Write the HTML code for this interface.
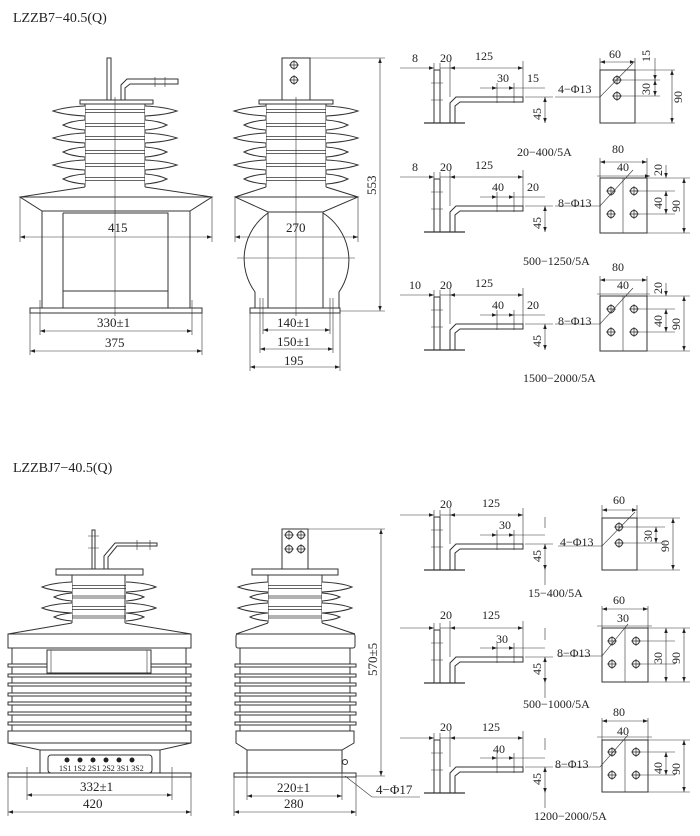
<!DOCTYPE html>
<html><head><meta charset="utf-8"><style>
html,body{margin:0;padding:0;background:#fff;}
svg{display:block;}
text{font-family:"Liberation Serif",serif;fill:#222;}
</style></head><body>
<svg width="700" height="836" viewBox="0 0 700 836" xmlns="http://www.w3.org/2000/svg" stroke="#333" stroke-width="1" fill="none">
<defs>
<marker id="a" viewBox="0 0 10 10" refX="10" refY="5" markerUnits="userSpaceOnUse" markerWidth="8" markerHeight="5" orient="auto-start-reverse"><path d="M0,1.5 L10,5 L0,8.5 z" fill="#222" stroke="none"/></marker>
<g id="shB"><path d="M-30,-5 Q-50,-4 -62,0 Q-50,4 -30,5 M30,-5 Q50,-4 62,0 Q50,4 30,5" fill="#fff"/><path d="M-30,-1.5 H30 M-30,1.5 H30" stroke-width="0.7"/></g>
<g id="shS"><path d="M-30,-5 Q-44,-4 -52,0 Q-44,4 -30,5 M30,-5 Q44,-4 52,0 Q44,4 30,5" fill="#fff"/><path d="M-30,-1.5 H30 M-30,1.5 H30" stroke-width="0.7"/></g>
<g id="shB2"><path d="M-27,-5 Q-47,-4 -57,0 Q-47,4 -27,5 M27,-5 Q47,-4 57,0 Q47,4 27,5" fill="#fff"/><path d="M-27,-1.5 H27 M-27,1.5 H27" stroke-width="0.7"/></g>
<g id="shS2"><path d="M-27,-4 Q-39,-3 -45,0 Q-39,3 -27,4 M27,-4 Q39,-3 45,0 Q39,3 27,4" fill="#fff"/><path d="M-27,-1 H27 M-27,1 H27" stroke-width="0.7"/></g>
<g id="hole"><circle r="3.5"/><path d="M-5,0 H5 M0,-5 V5" stroke-width="0.7"/></g>
<g id="br">
<rect x="434" y="-53" width="6" height="53"/>
<path d="M431,-40 H443 M431,-23 H443" stroke-width="0.6"/>
<path d="M450,0 V-20 L456,-26 H523 V-21 H460 L455,-17 V0"/>
<path d="M424,0 H465" stroke-width="1.2"/>
<path d="M434,-60 V-53 M440,-60 V-53 M450,-62 V-26 M523,-62 V-26 M497,-40 V-20 M514,-40 V-20 M525,-26 H553" stroke-width="0.6"/>
<path d="M400,-55 H434" stroke-width="0.6" marker-end="url(#a)"/>
<path d="M440,-55 H450" stroke-width="0.6"/>
<path d="M450,-55 H523" stroke-width="0.6" marker-start="url(#a)" marker-end="url(#a)"/>
<path d="M480,-35 H497" stroke-width="0.6" marker-end="url(#a)"/>
<path d="M497,-35 H514" stroke-width="0.6" marker-end="url(#a)"/>
<path d="M514,-35 H545" stroke-width="0.6"/>
<path d="M545,-26 V0" stroke-width="0.6" marker-start="url(#a)" marker-end="url(#a)"/>
</g>
</defs>

<text x="13" y="22" font-size="14" stroke="none">LZZB7−40.5(Q)</text>
<text x="13" y="472" font-size="14" stroke="none">LZZBJ7−40.5(Q)</text>

<!-- ===== Top left view ===== -->
<g>
<rect x="107" y="58" width="4" height="42"/>
<path d="M121,100 V85 L127,79 H178 V84 H130 L125,88 V100"/>
<path d="M155,77 V87 M165,77 V87" stroke-width="0.6"/>
<rect x="80" y="100" width="73" height="4"/>
<path d="M85,104 V187 M145,104 V187"/>
<use href="#shB" x="115" y="111"/><use href="#shS" x="115" y="125"/>
<use href="#shB" x="115" y="138"/><use href="#shS" x="115" y="152"/>
<use href="#shB" x="115" y="165"/><use href="#shS" x="115" y="179"/>
<path d="M85,187 L20,197 L42,211 H190 L212,197 L145,187 M20,197 H212"/>
<path d="M42,211 V308 M190,211 V308"/>
<path d="M63,213 H168 V308 M63,213 V308 M63,291 H168"/>
<rect x="30" y="308" width="172" height="5"/>
<path d="M115,97 V316" stroke-width="0.6"/>
<path d="M20,197 V242 M212,197 V242 M40,300 V335 M192,300 V335 M30,313 V355 M202,313 V355" stroke-width="0.6"/>
<path d="M20,237 H212" stroke-width="0.6" marker-start="url(#a)" marker-end="url(#a)"/>
<path d="M40,331 H192" stroke-width="0.6" marker-start="url(#a)" marker-end="url(#a)"/>
<path d="M30,351 H202" stroke-width="0.6" marker-start="url(#a)" marker-end="url(#a)"/>
<text x="108" y="232" font-size="13" stroke="none">415</text>
<text x="97" y="327" font-size="13" stroke="none">330±1</text>
<text x="105" y="347" font-size="13" stroke="none">375</text>
</g>

<!-- ===== Top middle view ===== -->
<g>
<rect x="282" y="58" width="28" height="42"/>
<use href="#hole" x="294" y="65"/><use href="#hole" x="294" y="80"/>
<rect x="259" y="100" width="74" height="4"/>
<path d="M266,104 V187 M326,104 V187"/>
<use href="#shB" x="296" y="111"/><use href="#shS" x="296" y="125"/>
<use href="#shB" x="296" y="138"/><use href="#shS" x="296" y="152"/>
<use href="#shB" x="296" y="165"/><use href="#shS" x="296" y="179"/>
<path d="M266,187 L235,197 L268,212 H323 L358,197 L326,187 M235,197 H358"/>
<path d="M268,212 V308 M323,212 V308"/>
<path d="M268,213 A56,56 0 0 0 255,292 V308 M323,213 A56,56 0 0 1 339,292 V308"/>
<rect x="250" y="308" width="90" height="5"/>
<path d="M296,97 V316 M237,258 H355" stroke-width="0.6"/>
<path d="M310,58 H385 M340,311 H385" stroke-width="0.6"/>
<path d="M380,58 V311" stroke-width="0.6" marker-start="url(#a)" marker-end="url(#a)"/>
<text transform="translate(376,195) rotate(-90)" font-size="13" stroke="none">553</text>
<path d="M235,197 V242 M358,197 V242 M263,298 V334 M330,298 V334 M260,298 V353 M333,298 V353 M250,313 V371 M340,313 V371" stroke-width="0.6"/>
<path d="M235,237 H358" stroke-width="0.6" marker-start="url(#a)" marker-end="url(#a)"/>
<path d="M263,330 H330" stroke-width="0.6" marker-start="url(#a)" marker-end="url(#a)"/>
<path d="M260,349 H333" stroke-width="0.6" marker-start="url(#a)" marker-end="url(#a)"/>
<path d="M250,367 H340" stroke-width="0.6" marker-start="url(#a)" marker-end="url(#a)"/>
<text x="286" y="232" font-size="13" stroke="none">270</text>
<text x="277" y="327" font-size="13" stroke="none">140±1</text>
<text x="277" y="346" font-size="13" stroke="none">150±1</text>
<text x="284" y="365" font-size="13" stroke="none">195</text>
</g>

<!-- ===== Bottom left view ===== -->
<g>
<rect x="92" y="530" width="3" height="39"/>
<path d="M88,536 H99 M88,548 H99" stroke-width="0.6"/>
<path d="M104,569 V556 L115,543 H157 V546 H117 L108,557 V569"/>
<path d="M137,540 V550 M150,540 V550" stroke-width="0.6"/>
<rect x="56" y="569" width="87" height="6"/>
<path d="M72,575 V623 M125,575 V623"/>
<use href="#shB2" x="99" y="587"/><use href="#shS2" x="99" y="597"/>
<use href="#shB2" x="99" y="608"/><use href="#shS2" x="99" y="617"/>
<path d="M72,623 L8,634 M125,623 L191,634"/>
<rect x="8" y="634" width="183" height="14"/>
<rect x="12" y="648" width="174" height="83"/>
<g fill="#fff">
<rect x="8" y="664" width="183" height="3"/><rect x="8" y="674" width="183" height="3"/>
<rect x="8" y="683" width="183" height="3"/><rect x="8" y="693" width="183" height="3"/>
<rect x="8" y="702" width="183" height="3"/><rect x="8" y="712" width="183" height="3"/>
<rect x="8" y="722" width="183" height="3"/>
<rect x="47" y="650" width="104" height="23"/>
</g>
<path d="M51,650 V673 M147,650 V673" stroke-width="0.6"/>
<rect x="8" y="731" width="183" height="12"/>
<path d="M8,743 L40,750 V773 M191,743 L160,750 V773 M40,750 H160"/>
<rect x="48" y="755" width="104" height="18" rx="3"/>
<g fill="#222" stroke="none">
<circle cx="67" cy="760" r="2.5"/><circle cx="80" cy="760" r="2.5"/><circle cx="93" cy="760" r="2.5"/>
<circle cx="106" cy="760" r="2.5"/><circle cx="119" cy="760" r="2.5"/><circle cx="132" cy="760" r="2.5"/>
</g>
<text x="59" y="771" font-size="8" stroke="none">1S1 1S2 2S1 2S2 3S1 3S2</text>
<rect x="8" y="773" width="183" height="4"/>
<path d="M27,767 V800 M172,767 V800 M8,777 V816 M191,777 V816" stroke-width="0.6"/>
<path d="M27,795 H172" stroke-width="0.6" marker-start="url(#a)" marker-end="url(#a)"/>
<path d="M8,812 H191" stroke-width="0.6" marker-start="url(#a)" marker-end="url(#a)"/>
<text x="80" y="791" font-size="13" stroke="none">332±1</text>
<text x="83" y="808" font-size="13" stroke="none">420</text>
</g>

<!-- ===== Bottom middle view ===== -->
<g>
<rect x="282" y="529" width="26" height="40"/>
<use href="#hole" x="289" y="535"/><use href="#hole" x="301" y="535"/>
<use href="#hole" x="289" y="549"/><use href="#hole" x="301" y="549"/>
<rect x="252" y="569" width="86" height="6"/>
<path d="M268,575 V623 M322,575 V623"/>
<use href="#shB2" x="295" y="587"/><use href="#shS2" x="295" y="597"/>
<use href="#shB2" x="295" y="608"/><use href="#shS2" x="295" y="617"/>
<path d="M268,623 L236,634 M322,623 L355,634"/>
<rect x="236" y="634" width="119" height="14" rx="2"/>
<rect x="240" y="648" width="110" height="83"/>
<g fill="#fff">
<rect x="235" y="664" width="121" height="3"/><rect x="235" y="674" width="121" height="3"/>
<rect x="235" y="683" width="121" height="3"/><rect x="235" y="693" width="121" height="3"/>
<rect x="235" y="702" width="121" height="3"/><rect x="235" y="712" width="121" height="3"/>
<rect x="235" y="722" width="121" height="3"/>
</g>
<path d="M236,731 H354 V743 L342,750 H247 L236,743 Z"/>
<path d="M247,750 V773 M342,750 V773"/>
<circle cx="345" cy="762" r="2.5"/>
<rect x="234" y="773" width="122" height="4"/>
<path d="M308,529 H385 M356,776 H385" stroke-width="0.6"/>
<path d="M381,529 V776" stroke-width="0.6" marker-start="url(#a)" marker-end="url(#a)"/>
<text transform="translate(377,676) rotate(-90)" font-size="13" stroke="none">570±5</text>
<path d="M247,773 V800 M342,773 V800 M234,777 V816 M356,777 V816" stroke-width="0.6"/>
<path d="M247,796 H342" stroke-width="0.6" marker-start="url(#a)" marker-end="url(#a)"/>
<path d="M234,812 H356" stroke-width="0.6" marker-start="url(#a)" marker-end="url(#a)"/>
<path d="M345,776 L372,797 H420" stroke-width="0.6"/>
<text x="277" y="792" font-size="13" stroke="none">220±1</text>
<text x="284" y="808" font-size="13" stroke="none">280</text>
<text x="376" y="794" font-size="13" stroke="none">4−Φ17</text>
</g>

<!-- ===== Right panels: brackets ===== -->
<use href="#br" y="123"/>
<use href="#br" y="232"/>
<use href="#br" y="350"/>
<use href="#br" y="570"/>
<use href="#br" y="683"/>
<use href="#br" y="793"/>
<path d="M545,570 V585 M545,683 V698 M545,793 V808 M545,517 V528 M545,628 V640 M545,738 V750" stroke-width="0.6"/>

<g font-size="12" stroke="none" fill="#222">
<text x="412" y="62">8</text><text x="440" y="62">20</text><text x="475" y="60">125</text>
<text x="497" y="82">30</text><text x="527" y="82">15</text>
<text transform="translate(541,120) rotate(-90)">45</text>
<text x="412" y="171">8</text><text x="440" y="171">20</text><text x="475" y="169">125</text>
<text x="492" y="191">40</text><text x="527" y="191">20</text>
<text transform="translate(541,229) rotate(-90)">45</text>
<text x="409" y="289">10</text><text x="440" y="289">20</text><text x="475" y="287">125</text>
<text x="492" y="309">40</text><text x="527" y="309">20</text>
<text transform="translate(541,347) rotate(-90)">45</text>
<text x="440" y="508">20</text><text x="482" y="507">125</text><text x="499" y="529">30</text>
<text transform="translate(541,562) rotate(-90)">45</text>
<text x="440" y="619">20</text><text x="482" y="619">125</text><text x="496" y="643">30</text>
<text transform="translate(541,675) rotate(-90)">45</text>
<text x="440" y="731">20</text><text x="482" y="731">125</text><text x="493" y="753">40</text>
<text transform="translate(541,785) rotate(-90)">45</text>

<text x="517" y="156">20−400/5A</text>
<text x="523" y="265">500−1250/5A</text>
<text x="523" y="382">1500−2000/5A</text>
<text x="528" y="597">15−400/5A</text>
<text x="523" y="708">500−1000/5A</text>
<text x="534" y="820">1200−2000/5A</text>
</g>

<!-- ===== Right panels: plates ===== -->
<g>
<rect x="600" y="70" width="35" height="53"/>
<use href="#hole" x="617" y="80"/><use href="#hole" x="617" y="96"/>
<path d="M600,58 V70 M635,58 V70 M617,80 H660 M617,96 H660 M635,70 H675 M635,123 H675 M555,97 H600 L633,63" stroke-width="0.6"/>
<path d="M600,62 H635" stroke-width="0.6" marker-start="url(#a)" marker-end="url(#a)"/>
<path d="M655,58 V80" stroke-width="0.6" marker-end="url(#a)"/>
<path d="M655,80 V96" stroke-width="0.6" marker-start="url(#a)" marker-end="url(#a)"/>
<path d="M672,70 V123" stroke-width="0.6" marker-start="url(#a)" marker-end="url(#a)"/>

<rect x="600" y="178" width="47" height="55"/>
<path d="M623,178 V233" stroke-width="0.6"/>
<use href="#hole" x="611" y="191"/><use href="#hole" x="634" y="191"/>
<use href="#hole" x="611" y="214"/><use href="#hole" x="634" y="214"/>
<path d="M600,158 V178 M647,158 V178 M634,191 H675 M634,214 H675 M647,178 H690 M647,233 H690 M555,206 H600 L633,170" stroke-width="0.6"/>
<path d="M600,162 H647" stroke-width="0.6" marker-start="url(#a)" marker-end="url(#a)"/>
<path d="M597,176 H611 M611,176 H634 M634,176 H650" stroke-width="0.6" marker-end="url(#a)"/>
<path d="M666,165 V178" stroke-width="0.6" marker-end="url(#a)"/>
<path d="M666,191 V214" stroke-width="0.6" marker-start="url(#a)" marker-end="url(#a)"/>
<path d="M684,178 V233" stroke-width="0.6" marker-start="url(#a)" marker-end="url(#a)"/>

<rect x="600" y="296" width="47" height="55"/>
<path d="M623,296 V351" stroke-width="0.6"/>
<use href="#hole" x="611" y="309"/><use href="#hole" x="634" y="309"/>
<use href="#hole" x="611" y="332"/><use href="#hole" x="634" y="332"/>
<path d="M600,276 V296 M647,276 V296 M634,309 H675 M634,332 H675 M647,296 H690 M647,351 H690 M555,324 H600 L633,288" stroke-width="0.6"/>
<path d="M600,280 H647" stroke-width="0.6" marker-start="url(#a)" marker-end="url(#a)"/>
<path d="M597,294 H650" stroke-width="0.6"/>
<path d="M666,283 V296" stroke-width="0.6" marker-end="url(#a)"/>
<path d="M666,309 V332" stroke-width="0.6" marker-start="url(#a)" marker-end="url(#a)"/>
<path d="M684,296 V351" stroke-width="0.6" marker-start="url(#a)" marker-end="url(#a)"/>

<rect x="602" y="518" width="35" height="52"/>
<use href="#hole" x="619" y="527"/><use href="#hole" x="619" y="543"/>
<path d="M602,505 V518 M637,505 V518 M619,527 H665 M619,543 H665 M637,518 H680 M637,570 H680 M558,546 H602 L635,512" stroke-width="0.6"/>
<path d="M602,510 H637" stroke-width="0.6" marker-start="url(#a)" marker-end="url(#a)"/>
<path d="M656,527 V543" stroke-width="0.6" marker-start="url(#a)" marker-end="url(#a)"/>
<path d="M673,518 V570" stroke-width="0.6" marker-start="url(#a)" marker-end="url(#a)"/>

<rect x="602" y="628" width="46" height="54"/>
<path d="M625,628 V682" stroke-width="0.6"/>
<use href="#hole" x="612" y="641"/><use href="#hole" x="636" y="641"/>
<use href="#hole" x="612" y="664"/><use href="#hole" x="636" y="664"/>
<path d="M602,606 V628 M648,606 V628 M636,641 H675 M636,664 H675 M648,628 H690 M648,682 H690 M558,656 H602 L628,624" stroke-width="0.6"/>
<path d="M602,609 H648" stroke-width="0.6" marker-start="url(#a)" marker-end="url(#a)"/>
<path d="M597,626 H652" stroke-width="0.6"/>
<path d="M666,628 V682" stroke-width="0.6" marker-start="url(#a)" marker-end="url(#a)"/>
<path d="M684,628 V682" stroke-width="0.6" marker-start="url(#a)" marker-end="url(#a)"/>

<rect x="602" y="740" width="46" height="52"/>
<path d="M625,740 V792" stroke-width="0.6"/>
<use href="#hole" x="612" y="752"/><use href="#hole" x="636" y="752"/>
<use href="#hole" x="612" y="775"/><use href="#hole" x="636" y="775"/>
<path d="M602,718 V740 M648,718 V740 M636,752 H675 M636,775 H675 M648,740 H690 M648,792 H690 M555,767 H600 L628,735" stroke-width="0.6"/>
<path d="M602,721 H648" stroke-width="0.6" marker-start="url(#a)" marker-end="url(#a)"/>
<path d="M597,737 H652" stroke-width="0.6"/>
<path d="M666,752 V775" stroke-width="0.6" marker-start="url(#a)" marker-end="url(#a)"/>
<path d="M684,740 V792" stroke-width="0.6" marker-start="url(#a)" marker-end="url(#a)"/>
</g>
<g font-size="12" stroke="none" fill="#222">
<text x="609" y="58">60</text>
<text transform="translate(650,62) rotate(-90)">15</text>
<text transform="translate(650,95) rotate(-90)">30</text>
<text transform="translate(682,103) rotate(-90)">90</text>
<text x="558" y="93">4−Φ13</text>
<text x="612" y="153">80</text><text x="617" y="171">40</text>
<text transform="translate(662,176) rotate(-90)">20</text>
<text transform="translate(662,209) rotate(-90)">40</text>
<text transform="translate(680,212) rotate(-90)">90</text>
<text x="558" y="207">8−Φ13</text>
<text x="612" y="271">80</text><text x="617" y="289">40</text>
<text transform="translate(662,294) rotate(-90)">20</text>
<text transform="translate(662,327) rotate(-90)">40</text>
<text transform="translate(680,330) rotate(-90)">90</text>
<text x="558" y="325">8−Φ13</text>
<text x="613" y="504">60</text>
<text transform="translate(652,542) rotate(-90)">30</text>
<text transform="translate(669,552) rotate(-90)">90</text>
<text x="560" y="546">4−Φ13</text>
<text x="613" y="604">60</text><text x="617" y="622">30</text>
<text transform="translate(662,664) rotate(-90)">30</text>
<text transform="translate(680,664) rotate(-90)">90</text>
<text x="557" y="657">8−Φ13</text>
<text x="613" y="716">80</text><text x="617" y="735">40</text>
<text transform="translate(662,774) rotate(-90)">40</text>
<text transform="translate(680,775) rotate(-90)">90</text>
<text x="555" y="768">8−Φ13</text>
</g>
</svg>
</body></html>
